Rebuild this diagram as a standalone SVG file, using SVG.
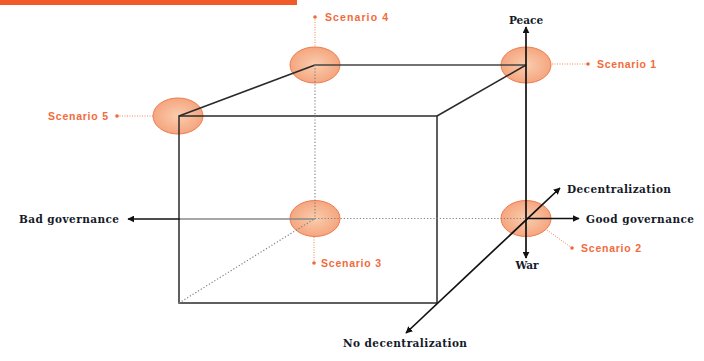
<svg xmlns="http://www.w3.org/2000/svg" width="704" height="361" viewBox="0 0 704 361">
<style>
.edge{stroke:#2a2a2a;stroke-width:1.5;fill:none}
.dot{stroke:#808080;stroke-width:1.2;stroke-dasharray:1.2 2;fill:none}
.axis{stroke:#111;stroke-width:1.7;fill:none}
.lead{stroke:#f0845a;stroke-width:1;stroke-dasharray:1 1.5;fill:none}
.sc{font-family:"Liberation Sans",Arial,sans-serif;font-weight:bold;font-size:10.5px;fill:#f26b3a}
.ax{font-family:"DejaVu Serif","Liberation Serif",serif;font-weight:bold;font-size:10.5px;fill:#141a28}
.node{fill:url(#g);stroke:#ef7c4e;stroke-width:1}
.pin{fill:#f0683a}
</style>
<defs>
<radialGradient id="g" cx="50%" cy="50%" r="55%">
<stop offset="0" stop-color="#facdae"/>
<stop offset="1" stop-color="#f4a27b"/>
</radialGradient>
<marker id="ah" viewBox="0 0 10 10" refX="9" refY="5" markerWidth="7" markerHeight="7" markerUnits="userSpaceOnUse" orient="auto-start-reverse">
<path d="M0,0 L10,5 L0,10 z" fill="#111"/>
</marker>
</defs>
<rect x="0" y="0" width="297" height="5" fill="#f15a29"/>

<g id="scenario-4">
<line class="lead" x1="315" y1="17" x2="315" y2="47"/>
<circle class="pin" cx="315" cy="17" r="1.8"/>
<ellipse class="node" cx="315" cy="65" rx="25" ry="18"/>
<text class="sc" x="325" y="21" textLength="63" lengthAdjust="spacing">Scenario 4</text>
</g>
<g id="scenario-5">
<line class="lead" x1="117" y1="116" x2="153" y2="116"/>
<circle class="pin" cx="117" cy="116" r="1.8"/>
<ellipse class="node" cx="178" cy="116" rx="25" ry="18"/>
<text class="sc" x="48" y="119.5" textLength="60" lengthAdjust="spacing">Scenario 5</text>
</g>
<g id="scenario-1">
<line class="lead" x1="552" y1="64" x2="588" y2="64"/>
<circle class="pin" cx="588" cy="64" r="1.8"/>
<ellipse class="node" cx="526" cy="65" rx="25" ry="18"/>
<text class="sc" x="597" y="68" textLength="59" lengthAdjust="spacing">Scenario 1</text>
</g>
<g id="scenario-3">
<line class="lead" x1="314" y1="237" x2="314" y2="263"/>
<circle class="pin" cx="314" cy="263" r="1.8"/>
<ellipse class="node" cx="315" cy="218.5" rx="25" ry="18"/>
<text class="sc" x="321" y="267" textLength="60" lengthAdjust="spacing">Scenario 3</text>
</g>
<g id="scenario-2">
<line class="lead" x1="547" y1="230" x2="572" y2="248"/>
<circle class="pin" cx="572" cy="248" r="1.8"/>
<ellipse class="node" cx="526" cy="218.5" rx="25" ry="18"/>
<text class="sc" x="581" y="252" textLength="60" lengthAdjust="spacing">Scenario 2</text>
</g>

<g id="connectors">
<rect class="edge" x="179" y="116" width="258" height="187"/>
<line class="edge" x1="179" y1="116" x2="315" y2="65"/>
<line class="edge" x1="437" y1="116" x2="526" y2="65"/>
<line class="edge" x1="315" y1="65" x2="526" y2="65" style="stroke:#444;stroke-width:1.6"/>
<line class="dot" x1="315" y1="65" x2="315" y2="218.5"/>
<line class="dot" x1="315" y1="218.5" x2="526" y2="218.5"/>
<line class="dot" x1="179" y1="303" x2="315" y2="218.5"/>
<line class="axis" x1="526" y1="218.5" x2="526" y2="27" marker-end="url(#ah)"/>
<line class="axis" x1="526" y1="218.5" x2="526" y2="258" marker-end="url(#ah)"/>
<line class="axis" x1="526" y1="218.5" x2="579" y2="218.5" marker-end="url(#ah)"/>
<line x1="315" y1="219" x2="179" y2="219" stroke="#888" stroke-width="1.7"/>
<line class="axis" x1="180" y1="219" x2="128" y2="219" marker-end="url(#ah)"/>
<line class="axis" x1="406" y1="333" x2="560" y2="188" marker-start="url(#ah)" marker-end="url(#ah)"/>
</g>

<g id="labels">
<text class="ax" x="526" y="24" text-anchor="middle">Peace</text>
<text class="ax" x="527" y="269" text-anchor="middle">War</text>
<text class="ax" x="567" y="192.5" textLength="104" lengthAdjust="spacing">Decentralization</text>
<text class="ax" x="586" y="222.5" textLength="108" lengthAdjust="spacing">Good governance</text>
<text class="ax" x="19" y="222.5" textLength="100" lengthAdjust="spacing">Bad governance</text>
<text class="ax" x="343" y="347" textLength="124" lengthAdjust="spacing">No decentralization</text>
</g>
</svg>
